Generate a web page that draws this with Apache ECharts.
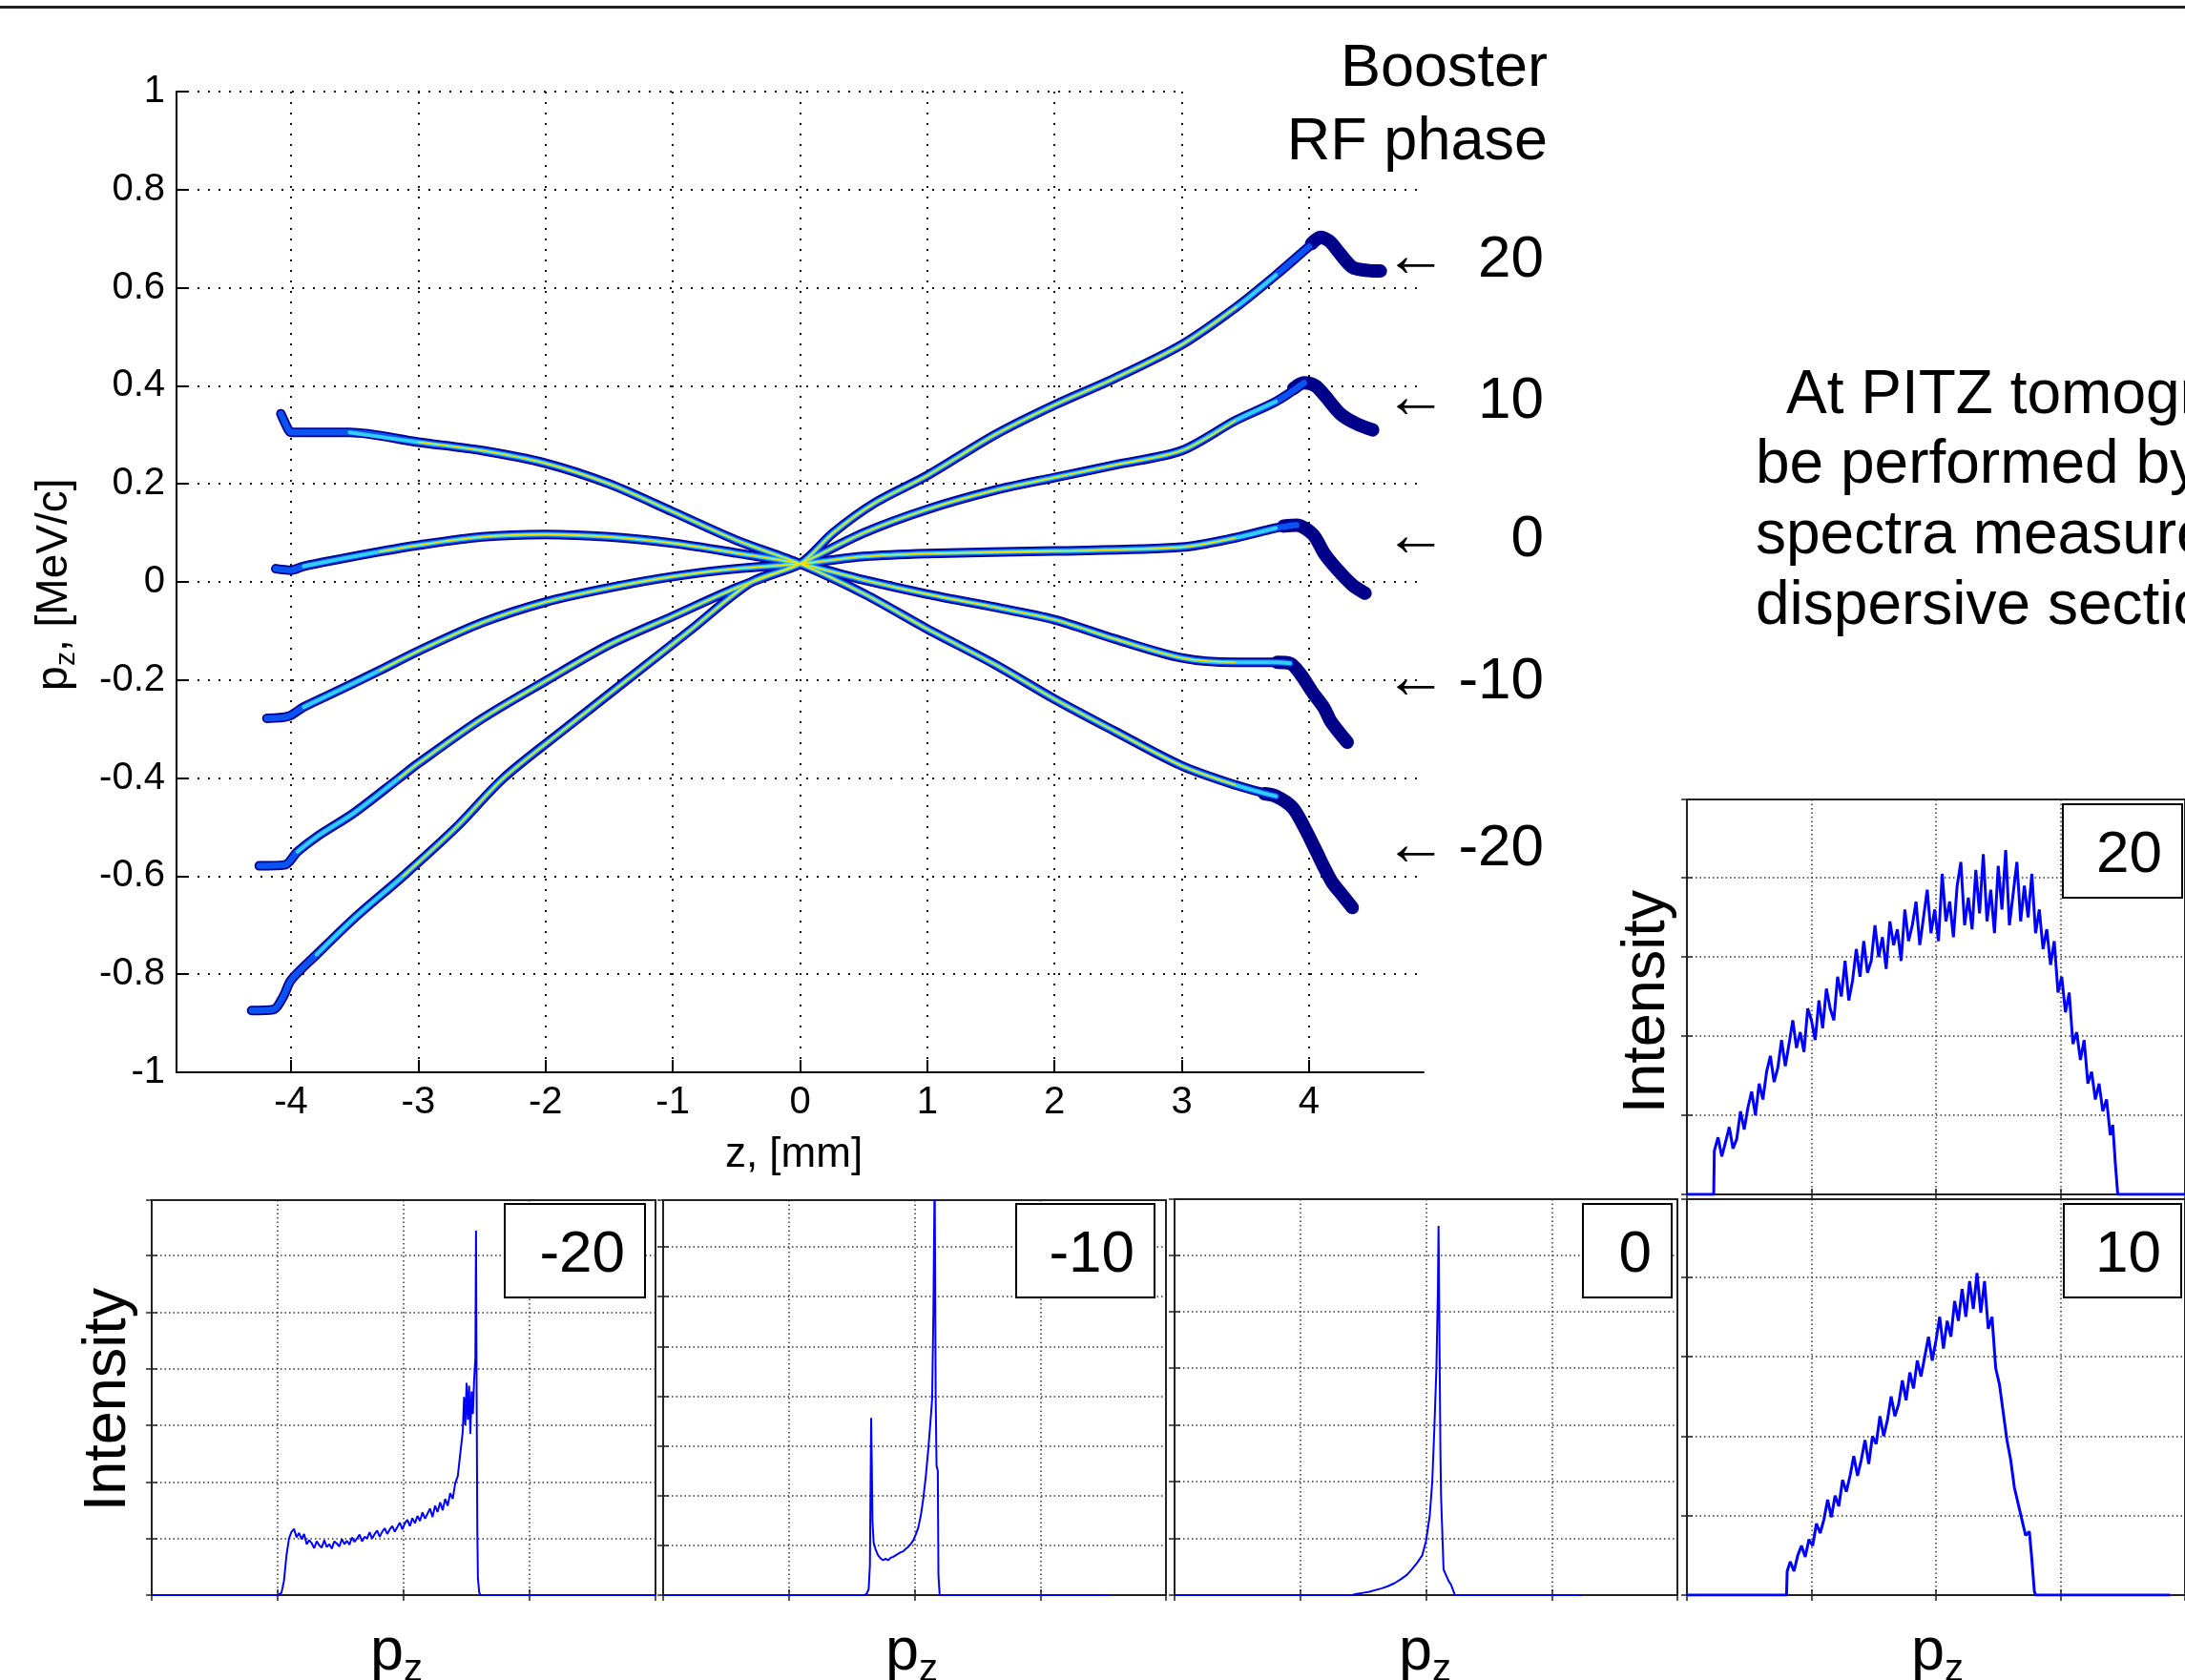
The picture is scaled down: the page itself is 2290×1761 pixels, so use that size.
<!DOCTYPE html>
<html><head><meta charset="utf-8">
<script src="https://cdn.jsdelivr.net/npm/echarts@6/dist/echarts.min.js"></script>
<style>html,body{margin:0;padding:0;background:#fff}#c{width:2290px;height:1761px}</style>
</head><body><div id="c"></div>
<script>
// ---------------- DATA ----------------
const phaseLabels = ['20', '10', '0', '-10', '-20'];

// longitudinal phase space traces [z (mm), pz (MeV/c)] per booster phase
const phase20 = [[-4.31,-0.874],[-4.14,-0.872],[-4.06,-0.845],[-4.0,-0.812],[-3.8,-0.76],[-3.5,-0.685],[-3.12,-0.6],[-2.7,-0.5],[-2.33,-0.4],[-1.85,-0.3],[-1.36,-0.2],[-0.87,-0.1],[-0.38,0.0],[0,0.037],[0.26,0.1],[0.58,0.16],[1.0,0.217],[1.53,0.3],[2.0,0.361],[2.47,0.415],[3.0,0.484],[3.43,0.561],[3.74,0.626],[4.0,0.684],[4.09,0.703]];
const phase20Tail = [[4.02,0.69],[4.09,0.703],[4.16,0.695],[4.22,0.677],[4.34,0.642],[4.47,0.635],[4.56,0.634]];

const phase10 = [[-4.25,-0.579],[-4.05,-0.577],[-3.95,-0.55],[-3.8,-0.52],[-3.5,-0.47],[-3.15,-0.4],[-3.0,-0.37],[-2.5,-0.279],[-2.0,-0.202],[-1.5,-0.128],[-1.0,-0.07],[-0.5,-0.012],[0,0.037],[0.5,0.1],[1.0,0.148],[1.53,0.187],[2.0,0.213],[2.5,0.24],[3.0,0.268],[3.42,0.329],[3.74,0.368],[3.96,0.406]];
const phase10Tail = [[3.88,0.395],[3.96,0.406],[4.05,0.4],[4.12,0.381],[4.25,0.342],[4.37,0.323],[4.5,0.31]];

const phase0 = [[-4.19,-0.278],[-4.02,-0.274],[-3.9,-0.255],[-3.6,-0.218],[-3.3,-0.18],[-3.0,-0.141],[-2.5,-0.083],[-2.0,-0.041],[-1.5,-0.012],[-1.0,0.011],[-0.5,0.027],[0,0.037],[0.5,0.052],[1.0,0.058],[2.0,0.063],[3.0,0.071],[3.42,0.09],[3.74,0.11],[3.9,0.116]];
const phase0Tail = [[3.8,0.114],[3.9,0.116],[4.03,0.097],[4.12,0.058],[4.22,0.026],[4.34,-0.006],[4.44,-0.023]];

const phaseM10 = [[-4.12,0.027],[-4.0,0.024],[-3.9,0.032],[-3.63,0.046],[-3.3,0.062],[-3.0,0.075],[-2.5,0.092],[-2.0,0.097],[-1.5,0.092],[-1.0,0.079],[-0.5,0.059],[0,0.037],[0.5,0.004],[1.0,-0.025],[1.5,-0.05],[2.0,-0.077],[2.47,-0.116],[3.0,-0.155],[3.42,-0.164],[3.74,-0.164],[3.85,-0.166]];
const phaseM10Tail = [[3.75,-0.164],[3.85,-0.166],[3.93,-0.187],[4.03,-0.226],[4.12,-0.258],[4.17,-0.284],[4.3,-0.327]];

const phaseM20 = [[-4.08,0.343],[-4.02,0.31],[-4.0,0.305],[-3.54,0.305],[-3.0,0.285],[-2.5,0.268],[-2.0,0.242],[-1.5,0.2],[-1.0,0.143],[-0.5,0.085],[0,0.037],[0.51,-0.025],[1.0,-0.096],[1.53,-0.168],[2.0,-0.239],[2.47,-0.304],[3.0,-0.375],[3.42,-0.414],[3.74,-0.437]];
const phaseM20Tail = [[3.65,-0.432],[3.74,-0.437],[3.87,-0.46],[3.96,-0.499],[4.06,-0.551],[4.12,-0.583],[4.18,-0.612],[4.25,-0.635],[4.34,-0.664]];

// momentum spectra [pz (arb. units, 0..4), intensity (arb. units)]
const specM20 = [[0,0],[1.0,0],[1.03,0.04],[1.05,0.25],[1.07,0.7],[1.09,1.0],[1.11,1.12],[1.13,1.17],[1.15,1.02],[1.17,1.1],[1.19,0.99],[1.21,1.08],[1.23,0.9],[1.25,0.97],[1.27,0.92],[1.29,0.83],[1.31,0.95],[1.33,0.88],[1.35,0.84],[1.37,0.97],[1.39,0.85],[1.41,0.9],[1.43,0.82],[1.45,0.95],[1.47,0.91],[1.49,0.86],[1.51,0.99],[1.53,0.9],[1.55,0.96],[1.57,0.89],[1.59,1.02],[1.61,0.94],[1.63,1.0],[1.65,1.07],[1.67,0.95],[1.69,1.03],[1.71,1.0],[1.73,1.11],[1.75,1.0],[1.77,1.08],[1.79,1.14],[1.81,1.03],[1.83,1.12],[1.85,1.18],[1.87,1.08],[1.89,1.16],[1.91,1.22],[1.93,1.12],[1.95,1.2],[1.97,1.28],[1.99,1.16],[2.01,1.27],[2.03,1.33],[2.05,1.22],[2.07,1.36],[2.09,1.27],[2.11,1.4],[2.13,1.31],[2.15,1.46],[2.17,1.35],[2.19,1.44],[2.21,1.53],[2.23,1.38],[2.25,1.58],[2.27,1.47],[2.29,1.64],[2.31,1.5],[2.33,1.7],[2.35,1.58],[2.37,1.8],[2.39,1.7],[2.41,1.98],[2.43,2.1],[2.45,2.5],[2.47,2.9],[2.48,3.5],[2.49,3.0],[2.5,3.75],[2.51,3.1],[2.52,3.7],[2.53,2.85],[2.54,3.6],[2.55,3.2],[2.56,3.8],[2.57,4.2],[2.575,6.44],[2.58,3.6],[2.585,1.2],[2.59,0.3],[2.6,0.05],[2.61,0],[4.0,0]];
const specM10 = [[0,0],[1.6,0],[1.62,0.03],[1.635,0.12],[1.645,0.6],[1.65,2.2],[1.655,3.56],[1.66,2.6],[1.665,1.5],[1.675,1.05],[1.69,0.92],[1.71,0.8],[1.73,0.74],[1.75,0.7],[1.77,0.73],[1.79,0.7],[1.81,0.75],[1.83,0.77],[1.85,0.8],[1.87,0.83],[1.89,0.86],[1.91,0.88],[1.93,0.93],[1.95,0.97],[1.97,1.03],[1.99,1.1],[2.01,1.22],[2.03,1.36],[2.05,1.6],[2.07,1.95],[2.09,2.4],[2.11,2.95],[2.13,3.6],[2.14,3.95],[2.15,5.7],[2.16,8.5],[2.168,4.0],[2.175,2.6],[2.185,2.5],[2.19,0.4],[2.2,0],[3.56,0]];
const spec0 = [[0,0],[1.41,0],[1.45,0.02],[1.5,0.04],[1.55,0.06],[1.6,0.09],[1.65,0.12],[1.7,0.16],[1.75,0.21],[1.8,0.28],[1.85,0.36],[1.89,0.46],[1.93,0.57],[1.97,0.7],[2.0,0.95],[2.03,1.4],[2.05,2.0],[2.066,2.9],[2.083,4.0],[2.095,5.4],[2.1,6.51],[2.107,4.6],[2.115,2.5],[2.12,1.74],[2.14,0.45],[2.16,0.35],[2.18,0.25],[2.2,0.18],[2.22,0.06],[2.23,0],[3.24,0]];
const spec10 = [[0,0],[0.8,0],[0.805,0.3],[0.83,0.42],[0.86,0.3],[0.89,0.5],[0.92,0.62],[0.95,0.48],[0.98,0.7],[1.01,0.62],[1.04,0.9],[1.07,0.78],[1.1,0.95],[1.13,1.2],[1.16,0.98],[1.19,1.25],[1.22,1.12],[1.25,1.45],[1.28,1.3],[1.31,1.5],[1.34,1.75],[1.37,1.5],[1.4,1.7],[1.43,1.95],[1.46,1.65],[1.49,2.0],[1.52,1.9],[1.55,2.25],[1.58,2.0],[1.61,2.2],[1.64,2.5],[1.67,2.25],[1.7,2.4],[1.73,2.7],[1.76,2.45],[1.79,2.8],[1.82,2.6],[1.85,2.95],[1.88,2.75],[1.91,3.0],[1.94,3.25],[1.97,2.95],[2.0,3.2],[2.03,3.5],[2.06,3.1],[2.09,3.45],[2.12,3.25],[2.15,3.7],[2.18,3.45],[2.21,3.85],[2.24,3.5],[2.27,3.95],[2.3,3.6],[2.33,4.05],[2.36,3.55],[2.39,3.95],[2.42,3.35],[2.45,3.5],[2.48,2.85],[2.51,2.65],[2.54,2.3],[2.57,1.95],[2.6,1.7],[2.63,1.35],[2.66,1.15],[2.69,0.95],[2.72,0.75],[2.75,0.8],[2.77,0.45],[2.79,0.05],[2.8,0],[3.88,0]];
const spec20 = [[0,0],[0.215,0],[0.22,0.55],[0.25,0.72],[0.28,0.48],[0.31,0.66],[0.34,0.85],[0.37,0.58],[0.4,0.7],[0.43,1.05],[0.46,0.82],[0.49,1.1],[0.52,1.3],[0.55,1.0],[0.58,1.4],[0.61,1.2],[0.64,1.55],[0.67,1.75],[0.7,1.42],[0.73,1.6],[0.76,1.95],[0.79,1.62],[0.82,1.9],[0.85,2.2],[0.88,1.85],[0.91,2.05],[0.94,1.8],[0.97,2.35],[1.0,2.2],[1.03,1.95],[1.06,2.45],[1.09,2.1],[1.12,2.6],[1.15,2.35],[1.18,2.2],[1.21,2.75],[1.24,2.5],[1.27,2.95],[1.3,2.45],[1.33,2.7],[1.36,3.1],[1.39,2.75],[1.42,3.2],[1.45,2.8],[1.48,2.95],[1.51,3.4],[1.54,3.0],[1.57,3.25],[1.6,2.85],[1.63,3.45],[1.66,3.15],[1.69,3.35],[1.72,2.95],[1.75,3.6],[1.78,3.2],[1.81,3.4],[1.84,3.7],[1.87,3.15],[1.9,3.5],[1.93,3.85],[1.96,3.3],[1.99,3.6],[2.02,3.2],[2.05,4.05],[2.08,3.45],[2.11,3.7],[2.14,3.25],[2.17,3.9],[2.2,4.2],[2.23,3.4],[2.26,3.75],[2.29,3.35],[2.32,4.1],[2.35,3.55],[2.38,4.3],[2.41,3.45],[2.44,3.85],[2.47,3.3],[2.5,4.15],[2.53,3.6],[2.56,4.35],[2.59,3.4],[2.62,3.8],[2.65,4.2],[2.68,3.45],[2.71,3.9],[2.74,3.5],[2.77,4.05],[2.8,3.3],[2.83,3.6],[2.86,3.1],[2.89,3.35],[2.92,2.9],[2.95,3.2],[2.98,2.55],[3.01,2.75],[3.04,2.3],[3.07,2.55],[3.1,1.9],[3.13,2.05],[3.16,1.7],[3.19,1.95],[3.22,1.4],[3.25,1.55],[3.28,1.2],[3.31,1.4],[3.34,1.05],[3.37,1.2],[3.4,0.75],[3.42,0.88],[3.44,0.4],[3.46,0],[4.0,0]];

const panelLabels = ['-20', '-10', '0', '10', '20'];
const panelYMax = [6.98, 7.94, 6.98, 4.98, 4.99];
const textLines = ['At PITZ tomography can', 'be performed by means of', 'spectra measurements in', 'dispersive section.'];

// ---------------- CHART ----------------
const FONT = '"Liberation Sans", Arial, Helvetica, sans-serif';
const chart = echarts.init(document.getElementById('c'), null, {renderer: 'canvas'});

const bands = [phase20, phase10, phase0, phaseM10, phaseM20];
const tails = [phase20Tail, phase10Tail, phase0Tail, phaseM10Tail, phaseM20Tail];
const spectra = [specM20, specM10, spec0, spec10, spec20];
const specWidth = [2, 2, 2, 3, 3];

const panelGrids = [
  {left: 159, top: 1258, width: 528, height: 414},
  {left: 695, top: 1258, width: 527, height: 414},
  {left: 1231, top: 1257, width: 527, height: 415},
  {left: 1768, top: 1257, width: 527, height: 415},
  {left: 1768, top: 838, width: 527, height: 414}
];
const labelBoxes = [
  {x: 529, y: 1262, w: 147, h: 98},
  {x: 1065, y: 1262, w: 145, h: 98},
  {x: 1659, y: 1262, w: 93, h: 98},
  {x: 2163, y: 1262, w: 123, h: 98},
  {x: 2162, y: 843, w: 125, h: 98}
];

const grid = [{left: 185, top: 96, width: 1307, height: 1028}];
panelGrids.forEach(g => grid.push(Object.assign({show: true, borderColor: '#222', borderWidth: 2, backgroundColor: '#fff'}, g)));

const xAxis = [{
  gridIndex: 0, type: 'value', min: -4.9, max: 4.9, splitNumber: 10,
  axisLine: {show: true, onZero: false, lineStyle: {color: '#000', width: 2}},
  axisTick: {show: true, inside: true, length: 13, lineStyle: {color: '#000', width: 2}},
  axisLabel: {show: true, fontSize: 40, fontFamily: FONT, color: '#000', margin: 12, showMinLabel: false, showMaxLabel: false},
  splitLine: {show: true, showMinLine: false, showMaxLine: false, lineStyle: {type: [2, 9], color: '#111', width: 2}}
}];
const yAxis = [{
  gridIndex: 0, type: 'value', min: -1, max: 1, interval: 0.2,
  axisLine: {show: true, onZero: false, lineStyle: {color: '#000', width: 2}},
  axisTick: {show: true, inside: true, length: 12, lineStyle: {color: '#000', width: 2}},
  axisLabel: {show: true, fontSize: 40, fontFamily: FONT, color: '#000', margin: 12},
  splitLine: {show: true, showMinLine: false, showMaxLine: true, lineStyle: {type: [2, 9], color: '#111', width: 2}}
}];
const panelSplit = {show: true, showMinLine: false, showMaxLine: false, lineStyle: {type: [1.5, 3], color: '#333', width: 1.5}};
const panelTick = {show: true, inside: true, length: 6, lineStyle: {color: '#222', width: 1.5}};
panelGrids.forEach((g, i) => {
  const gi = i + 1;
  xAxis.push({gridIndex: gi, type: 'value', min: 0, max: 4, interval: 1, position: 'bottom',
    axisLine: {show: false}, axisTick: panelTick, axisLabel: {show: false}, splitLine: panelSplit});
  xAxis.push({gridIndex: gi, type: 'value', min: 0, max: 4, interval: 1, position: 'top',
    axisLine: {show: false}, axisTick: panelTick, axisLabel: {show: false}, splitLine: {show: false}});
  yAxis.push({gridIndex: gi, type: 'value', min: 0, max: panelYMax[i], interval: 1, position: 'left',
    axisLine: {show: false}, axisTick: panelTick, axisLabel: {show: false}, splitLine: panelSplit});
  yAxis.push({gridIndex: gi, type: 'value', min: 0, max: panelYMax[i], interval: 1, position: 'right',
    axisLine: {show: false}, axisTick: panelTick, axisLabel: {show: false}, splitLine: {show: false}});
});

const series = [];
const lineBase = {type: 'line', xAxisIndex: 0, yAxisIndex: 0, showSymbol: false, symbol: 'none', smooth: 0.3, silent: true, animation: false};
tails.forEach(t => series.push(Object.assign({}, lineBase, {data: t, z: 2, lineStyle: {color: '#000088', width: 14, cap: 'round', join: 'round'}})));
const layers = [
  {w: 10, c: '#000094', lo: -9, hi: 9},
  {w: 6.5, c: '#0a52f2', lo: -9, hi: 4.0},
  {w: 4, c: '#30cfff', lo: -3.95, hi: 3.85},
  {w: 1.6, c: '#f4e200', lo: -3.4, hi: 3.5}
];
layers.forEach((L, li) => {
  bands.forEach(b => {
    const d = b.filter(p => p[0] >= L.lo && p[0] <= L.hi);
    series.push(Object.assign({}, lineBase, {data: d, z: 3 + li, lineStyle: {color: L.c, width: L.w, cap: 'round', join: 'round'}}));
  });
});
spectra.forEach((s, i) => {
  series.push({type: 'line', xAxisIndex: 1 + 2 * i, yAxisIndex: 1 + 2 * i, data: s, showSymbol: false, symbol: 'none',
    clip: true, silent: true, animation: false, lineStyle: {color: '#0000ff', width: specWidth[i]}, z: 3});
});

// ---------------- GRAPHICS / TEXT ----------------
const graphic = [];
graphic.push({type: 'line', shape: {x1: 0, y1: 7.5, x2: 2290, y2: 7.5}, style: {stroke: '#222', lineWidth: 3}, z: 100});
graphic.push({type: 'rect', shape: {x: 1240, y: 84, width: 270, height: 110}, style: {fill: '#fff'}, z: 100});
const txt = (text, x, y, fs, align, extra) => Object.assign({type: 'text', x: x, y: y, z: 110,
  style: {text: text, fontSize: fs, fontFamily: FONT, fill: '#000', align: align, verticalAlign: 'middle'}}, extra || {});
graphic.push(txt('Booster', 1622, 73, 63, 'right'));
graphic.push(txt('RF phase', 1622, 150, 63, 'right'));
const arrowY = [273, 421, 566, 715, 890];
phaseLabels.forEach((lab, i) => {
  graphic.push(txt('\u2190', 1484, arrowY[i] - 2, 66, 'center'));
  graphic.push(txt(lab, 1618, arrowY[i], 62, 'right'));
});
const lineX = [1872, 1840, 1840, 1840];
const lineY = [415, 488, 562, 636];
textLines.forEach((t, i) => graphic.push(txt(t, lineX[i], lineY[i], 64, 'left')));

graphic.push(txt('z, [mm]', 832, 1211, 44, 'center'));
graphic.push(txt('p', 57, 724, 46, 'left', {rotation: Math.PI / 2}));
graphic.push(txt('z', 70, 698, 30, 'left', {rotation: Math.PI / 2}));
graphic.push(txt(', [MeV/c]', 57, 683, 46, 'left', {rotation: Math.PI / 2}));

graphic.push(txt('Intensity', 114, 1467, 63, 'center', {rotation: Math.PI / 2}));
graphic.push(txt('Intensity', 1727, 1050, 63, 'center', {rotation: Math.PI / 2}));

const pzX = [415, 955, 1493, 2030];
pzX.forEach(cx => {
  graphic.push(txt('p', cx - 27, 1733, 63, 'left'));
  graphic.push(txt('z', cx + 8, 1751, 40, 'left'));
});

labelBoxes.forEach((b, i) => {
  graphic.push({type: 'rect', shape: {x: b.x, y: b.y, width: b.w, height: b.h}, style: {fill: '#fff', stroke: '#000', lineWidth: 2}, z: 105});
  graphic.push(txt(panelLabels[i], b.x + b.w - 21, b.y + b.h / 2 + 5, 62, 'right'));
});

chart.setOption({
  animation: false,
  backgroundColor: '#fff',
  grid: grid, xAxis: xAxis, yAxis: yAxis, series: series, graphic: graphic
});
</script></body></html>
